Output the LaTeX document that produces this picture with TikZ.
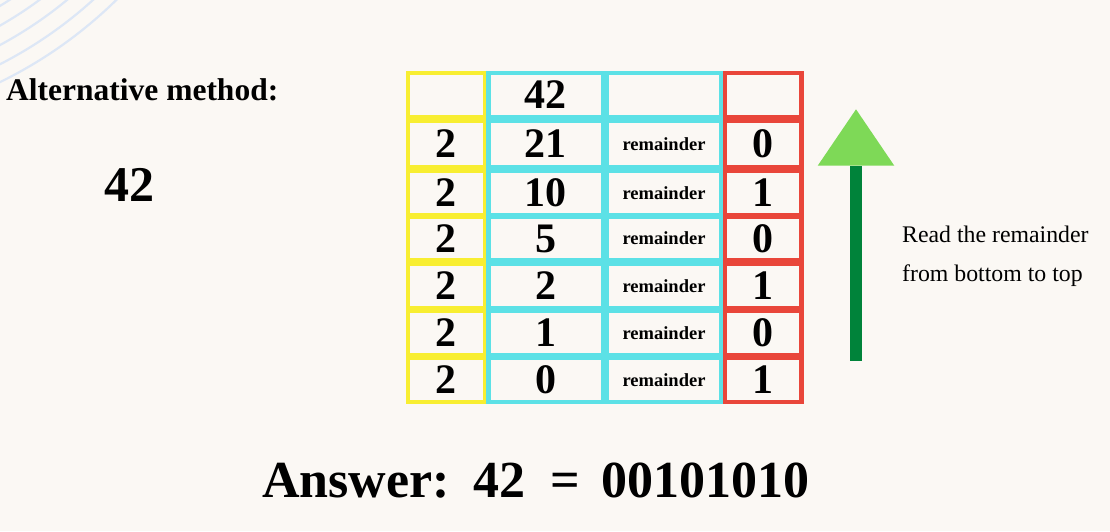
\documentclass[tikz,border=0pt]{standalone}
\usepackage{fontspec}
\setmainfont{Liberation Serif}
\definecolor{bg}{HTML}{FBF8F4}
\definecolor{yel}{HTML}{F8EE31}
\definecolor{cya}{HTML}{5CE1E6}
\definecolor{redc}{HTML}{E9463A}
\definecolor{lgreen}{HTML}{7ED957}
\definecolor{dgreen}{HTML}{00833A}
\definecolor{arcblue}{HTML}{DDE7F6}
\tikzset{
  cell/.style={fill=bg, draw=none, inner sep=0pt, text=black, font=\bfseries\fontsize{42}{42}\selectfont},
  ycell/.style={cell, minimum width=72.5pt},
  acell/.style={cell, minimum width=110pt},
  bcell/.style={cell, minimum width=110pt, font=\bfseries\fontsize{18.5}{18.5}\selectfont},
  rcell/.style={cell, minimum width=72pt},
  label/.style={inner sep=0pt, text=black}
}
\begin{document}
\begin{tikzpicture}[x=1pt,y=-1pt]
\fill[bg] (0,0) rectangle (1110,531);
% decorative arcs
\begin{scope}
\clip (0,0) rectangle (1110,531);
\foreach \r in {378,395,412,429,445}
  \draw[arcblue, line width=2.2pt] (-195,-318) circle (\r);
\end{scope}
% column backgrounds
\fill[yel] (406,71) rectangle (486,404);
\fill[cya] (486,71) rectangle (722.7,404);
\fill[redc] (722.7,71) rectangle (803.5,404);
% first row
\node[ycell, minimum height=40pt] (y1) at (446.25,95) {};
\node[acell, minimum height=40pt] (a1) at (545.5,95) {42};
\node[bcell, minimum height=40pt] (b1) at (664,95) {};
\node[rcell, minimum height=40pt] (r1) at (763,95) {};
% other rows
\foreach \i/\cy/\h/\q/\v in {2/144/42/21/0, 3/193/40/10/1, 4/238.5/39/5/0, 5/286/40/2/1, 6/333/40/1/0, 7/380/40/0/1}{
  \node[ycell, minimum height=\h pt] (y\i) at (446.25,\cy) {2};
  \node[acell, minimum height=\h pt] (a\i) at (545.5,\cy) {\q};
  \node[bcell, minimum height=\h pt] (b\i) at (664,\cy) {remainder};
  \node[rcell, minimum height=\h pt] (r\i) at (763,\cy) {\v};
}
% arrow
\fill[dgreen] (850,165.7) rectangle (862,361);
\fill[lgreen] (817.7,165.7) -- (856,109.3) -- (894.3,165.7) -- cycle;
% texts
\node[label, anchor=base west, font=\bfseries\fontsize{31.5}{31.5}\selectfont] (alt) at (6,100.7) {Alternative method:};
\node[label, anchor=base west, font=\bfseries\fontsize{50}{50}\selectfont] (num) at (104,201.7) {42};
\node[label, anchor=base west, font=\fontsize{23.8}{23.8}\selectfont] (read1) at (902,242.7) {Read the remainder};
\node[label, anchor=base west, font=\fontsize{23.8}{23.8}\selectfont] (read2) at (902,281.7) {from bottom to top};
\node[label, anchor=base, font=\bfseries\fontsize{52}{52}\selectfont] (ans) at (356,497.4) {Answer:};
\node[label, anchor=base, font=\bfseries\fontsize{52}{52}\selectfont] (ans42) at (499,497.4) {42};
\node[label, anchor=base, font=\bfseries\fontsize{52}{52}\selectfont] (anseq) at (565,497.4) {=};
\node[label, anchor=base, font=\bfseries\fontsize{52}{52}\selectfont] (ansbin) at (705,497.4) {00101010};
\end{tikzpicture}
\end{document}
